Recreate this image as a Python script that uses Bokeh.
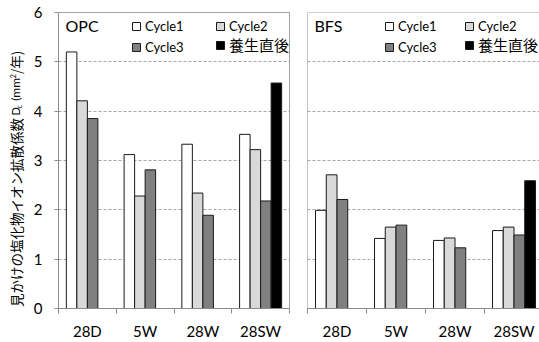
import math
from bokeh.plotting import figure
from bokeh.layouts import row
from bokeh.models import (ColumnDataSource, Range1d, FixedTicker, Legend, LegendItem,
                          Label, Span)
from bokeh.embed import file_html
from bokeh.resources import INLINE

# ---- data ----
categories = ["28D", "5W", "28W", "28SW"]
series_names = ["Cycle1", "Cycle2", "Cycle3", "養生直後"]
opc_cycle1 = [5.20, 3.12, 3.33, 3.53]
opc_cycle2 = [4.21, 2.28, 2.34, 3.22]
opc_cycle3 = [3.85, 2.81, 1.89, 2.18]
opc_curing = [None, None, None, 4.57]
bfs_cycle1 = [1.99, 1.42, 1.38, 1.58]
bfs_cycle2 = [2.71, 1.65, 1.43, 1.65]
bfs_cycle3 = [2.21, 1.69, 1.23, 1.49]
bfs_curing = [None, None, None, 2.59]
y_ticks = [0, 1, 2, 3, 4, 5, 6]

fills = ["#ffffff", "#d9d9d9", "#808080", "#000000"]
BAR_W = 0.182
LATIN = "Lato"
CJK = "Noto Sans CJK JP"
GRID = "#a6a6a6"
AXIS = "#8c8c8c"
H = 342
LABEL_W = 30


def make_panel(title, data, width, min_left, min_right, x_end, show_y, leg_x):
    p = figure(width=width, height=H, x_range=Range1d(0, x_end), y_range=Range1d(0, 6),
               output_backend="svg", toolbar_location=None,
               min_border_left=min_left, min_border_right=min_right,
               min_border_top=12, min_border_bottom=34)
    p.background_fill_color = "white"
    p.border_fill_color = "white"
    p.xgrid.grid_line_color = None
    p.ygrid.grid_line_color = GRID
    p.ygrid.grid_line_dash = "3 2"
    p.ygrid.ticker = FixedTicker(ticks=[1, 2, 3, 4, 5])

    xa = p.xaxis[0]
    xa.ticker = FixedTicker(ticks=[i + 0.5 for i in range(len(categories))],
                            minor_ticks=list(range(len(categories) + 1)))
    xa.major_label_overrides = {i + 0.5: c for i, c in enumerate(categories)}
    xa.major_tick_out = 0
    xa.major_tick_in = 0
    xa.minor_tick_out = 5
    xa.minor_tick_in = 0
    xa.minor_tick_line_color = AXIS
    xa.axis_line_color = AXIS
    xa.major_label_text_font = LATIN
    xa.major_label_text_font_size = "15px"
    xa.major_label_text_color = "black"
    xa.major_label_standoff = 8

    ya = p.yaxis[0]
    if show_y:
        ya.ticker = FixedTicker(ticks=y_ticks)
        ya.minor_tick_line_color = None
        ya.major_tick_out = 4
        ya.major_tick_in = 0
        ya.major_tick_line_color = AXIS
        ya.axis_line_color = AXIS
        ya.major_label_text_font = LATIN
        ya.major_label_text_font_size = "15px"
        ya.major_label_text_color = "black"
        ya.major_label_standoff = 12
        p.outline_line_color = "#a0a0a0"
    else:
        ya.visible = False
        p.outline_line_color = None
        p.add_layout(Span(location=6, dimension="width", line_color="#a0a0a0", line_width=1))
        p.add_layout(Span(location=0, dimension="height", line_color=AXIS, line_width=1))

    renderers = []
    for j, vals in enumerate(data):
        xs, tops = [], []
        for i, v in enumerate(vals):
            if v is None:
                continue
            xs.append(i + 0.5 + (j - 1.5) * BAR_W)
            tops.append(v)
        src = ColumnDataSource(dict(x=xs, top=tops))
        r = p.vbar(x="x", top="top", width=BAR_W, bottom=0, source=src,
                   fill_color=fills[j], line_color="#1a1a1a", line_width=1)
        renderers.append(r)

    pos = [(leg_x[0], 274, 13, LATIN), (leg_x[1], 274, 13, LATIN),
           (leg_x[0], 253, 13, LATIN), (leg_x[1], 253, 15, CJK)]
    for j, (lx, ly, fs, fnt) in enumerate(pos):
        lg = Legend(items=[LegendItem(label=series_names[j], renderers=[renderers[j]])],
                    location=(lx, ly), padding=0, margin=0, spacing=0,
                    glyph_width=10, glyph_height=10, label_standoff=4,
                    label_height=10, label_width=10,
                    label_text_font=fnt, label_text_font_size=f"{fs}px",
                    label_text_color="black",
                    border_line_color=None, background_fill_alpha=0)
        p.add_layout(lg)

    p.add_layout(Label(x=7, y=293, x_units="screen", y_units="screen", text=title,
                       text_font=LATIN, text_font_size="16px", text_color="black",
                       text_baseline="top", text_align="left"))
    return p


# y-axis title panel (pieces of one rotated title)
p0 = figure(width=LABEL_W, height=H, x_range=Range1d(0, LABEL_W), y_range=Range1d(0, H),
            output_backend="svg", toolbar_location=None,
            x_axis_location=None, y_axis_location=None,
            min_border_left=0, min_border_right=0, min_border_top=0, min_border_bottom=0)
p0.grid.grid_line_color = None
p0.outline_line_color = None
p0.border_fill_color = "white"
LX = 15
# (text, canvas-y anchor, x shift, font, size, align)
pieces = [
    ("見かけの塩化物イオン拡散係数", 122, 0, CJK, "13.5px", "right"),
    ("D", 119, 0, LATIN, "11px", "left"),
    ("c", 111, 3, LATIN, "7px", "left"),
    ("(mm", 102, 0, LATIN, "12px", "left"),
    ("2", 76, -3, LATIN, "7px", "left"),
    ("/年)", 71, 0, CJK, "13.5px", "left"),
]
for txt, cy, dx, fnt, fs, al in pieces:
    p0.add_layout(Label(x=LX + dx, y=H - cy, text=txt, angle=math.pi / 2,
                        text_font=fnt, text_font_size=fs, text_color="black",
                        text_align=al, text_baseline="middle"))

p1 = make_panel("OPC", [opc_cycle1, opc_cycle2, opc_cycle3, opc_curing],
                296 - LABEL_W, 53 - LABEL_W, 7, 4.0, True, (73, 157))
p2 = make_panel("BFS", [bfs_cycle1, bfs_cycle2, bfs_cycle3, bfs_curing],
                243, 11, 0, 232 / 59.0, False, (77, 157))

layout = row(p0, p1, p2)
open("out.html", "w").write(file_html(layout, INLINE))
